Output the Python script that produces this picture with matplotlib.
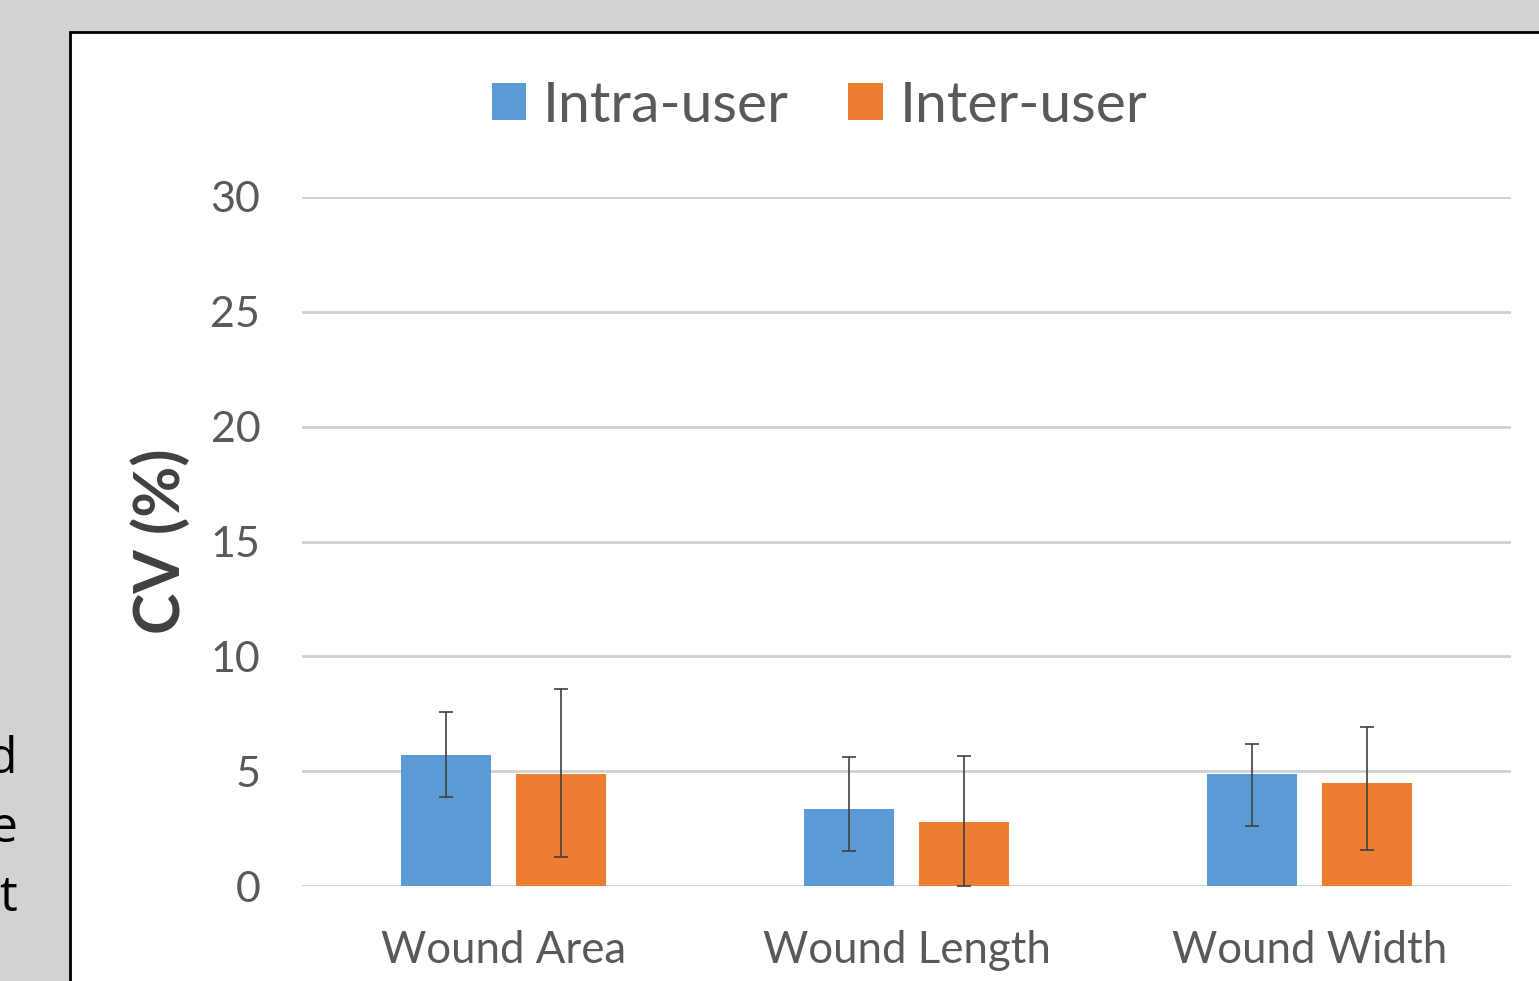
import matplotlib.pyplot as plt
import matplotlib.patches as patches
import numpy as np

categories = ['Wound Area', 'Wound Length', 'Wound Width']
series = ['Intra-user', 'Inter-user']
intra = [5.7, 3.35, 4.88]
intra_lo = [1.83, 1.83, 2.27]
intra_hi = [1.87, 2.27, 1.30]
inter = [4.88, 2.79, 4.48]
inter_lo = [3.62, 2.79, 2.91]
inter_hi = [3.70, 2.87, 2.44]
yticks = [0, 5, 10, 15, 20, 25, 30]
side_text = ['d', 'e', 't']

W, H = 1539, 981
blue = '#5B9BD5'
orange = '#ED7D31'
plt.rcParams['font.family'] = ['Lato', 'DejaVu Sans']

fig = plt.figure(figsize=(W / 100, H / 100), dpi=100, facecolor='#d1d2d4')

# white panel with black frame
panel = patches.Rectangle((70 / W, -0.1), 1.2, 1 - 32 / H + 0.1, transform=fig.transFigure,
                          facecolor='white', edgecolor='black', lw=2, zorder=-5)
fig.patches.append(panel)

# cropped poster text on the left
for i, s in enumerate(side_text):
    fig.text(17 / W, 1 - (773 + 69 * i) / H, s, ha='right', va='baseline',
             fontsize=36, color='black', family=['Open Sans', 'DejaVu Sans'])

ax = fig.add_axes([302 / W, (H - 886) / H, (1511 - 302) / W, (886 - 197) / H])
ax.set_facecolor('none')

x = np.arange(len(categories))
w = 0.223
off = 0.142
ekw = dict(ecolor='#404040', elinewidth=1.2, capsize=5, capthick=1.2)
ax.bar(x - off, intra, w, yerr=[intra_lo, intra_hi], color=blue, label=series[0],
       zorder=2, error_kw=ekw)
ax.bar(x + off, inter, w, yerr=[inter_lo, inter_hi], color=orange, label=series[1],
       zorder=2, error_kw=ekw)

ax.set_xlim(-0.5, 2.5)
ax.set_ylim(0, 30)
ax.set_yticks(yticks)
ax.set_xticks(x)
ax.set_xticklabels(categories)
ax.yaxis.grid(True, color='#d0d0d0', lw=2, zorder=0)
ax.set_axisbelow(True)
for sp in ax.spines.values():
    sp.set_visible(False)
ax.tick_params(axis='y', length=0, pad=30, labelsize=31, labelcolor='#595959')
ax.tick_params(axis='x', length=0, pad=32, labelsize=31.5, labelcolor='#595959')

ax.set_ylabel('CV (%)', fontsize=45, fontweight='bold', color='#404040', labelpad=14)

ax.legend(loc='lower center', bbox_to_anchor=(0.428, 1.0), ncol=2, frameon=False,
          fontsize=41, labelcolor='#595959', handlelength=0.6, handleheight=0.6,
          handletextpad=0.3, columnspacing=1.05, borderaxespad=0.75)

fig.savefig('out.png', dpi=100, facecolor=fig.get_facecolor())
